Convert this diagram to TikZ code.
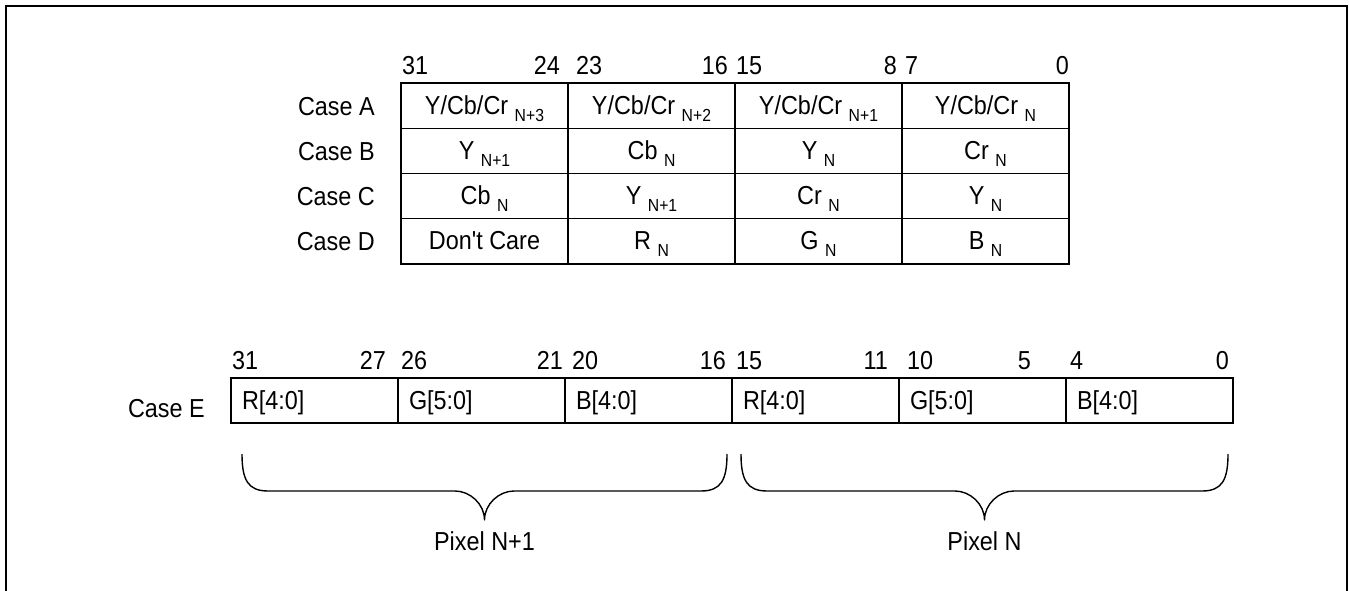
\documentclass[tikz,border=0pt]{standalone}
\usepackage{fontspec}
\newfontfamily\arialfont{Liberation Sans}[FakeStretch=0.9]
\newcommand\lowsub[1]{\raisebox{-7pt}{\fontsize{17.5}{18}\selectfont #1}}
\begin{document}
\begin{tikzpicture}[x=1pt,y=-1pt,
  every node/.style={font=\arialfont\fontsize{26}{30}\selectfont, inner sep=0pt},
  cell/.style={draw, line width=1.4pt, minimum width=167pt, minimum height=45.25pt,
    text height=17pt, text depth=0pt, align=center},
  ecell/.style={draw, line width=1.4pt, minimum width=167pt, minimum height=45pt,
    text height=18pt, text depth=0pt, text width=145pt, inner xsep=11pt, align=left},
  hdrl/.style={anchor=base west},
  hdrr/.style={anchor=base east},
  caselbl/.style={anchor=base east},
  pixlbl/.style={anchor=base},
  brace/.style={line width=1.4pt, line join=round}]
\useasboundingbox (0,0) rectangle (1349,591);
% outer frame (open at the bottom)
\draw[line width=2.7pt] (6,600) -- (6,6) -- (1347,6) -- (1347,600);

% ---------- top table ----------
\node[hdrl] (t31) at (402,75) {31};
\node[hdrr] (t24) at (560,75) {24};
\node[hdrl] (t23) at (576,75) {23};
\node[hdrr] (t16) at (728,75) {16};
\node[hdrl] (t15) at (736,75) {15};
\node[hdrr] (t8)  at (897,75) {8};
\node[hdrl] (t7)  at (905,75) {7};
\node[hdrr] (t0)  at (1069,75) {0};

\node[caselbl] (caseA) at (375,115.1) {Case A};
\node[caselbl] (caseB) at (375,160.4) {Case B};
\node[caselbl] (caseC) at (375,205.6) {Case C};
\node[caselbl] (caseD) at (375,250.9) {Case D};

\node[cell] (a1) at (484.5,105.6) {Y/Cb/Cr \lowsub{N+3}};
\node[cell] (a2) at (651.5,105.6) {Y/Cb/Cr \lowsub{N+2}};
\node[cell] (a3) at (818.5,105.6) {Y/Cb/Cr \lowsub{N+1}};
\node[cell] (a4) at (985.5,105.6) {Y/Cb/Cr \lowsub{N}};

\node[cell] (b1) at (484.5,150.9) {Y \lowsub{N+1}};
\node[cell] (b2) at (651.5,150.9) {Cb \lowsub{N}};
\node[cell] (b3) at (818.5,150.9) {Y \lowsub{N}};
\node[cell] (b4) at (985.5,150.9) {Cr \lowsub{N}};

\node[cell] (c1) at (484.5,196.1) {Cb \lowsub{N}};
\node[cell] (c2) at (651.5,196.1) {Y \lowsub{N+1}};
\node[cell] (c3) at (818.5,196.1) {Cr \lowsub{N}};
\node[cell] (c4) at (985.5,196.1) {Y \lowsub{N}};

\node[cell] (d1) at (484.5,241.4) {Don't Care};
\node[cell] (d2) at (651.5,241.4) {R \lowsub{N}};
\node[cell] (d3) at (818.5,241.4) {G \lowsub{N}};
\node[cell] (d4) at (985.5,241.4) {B \lowsub{N}};

% ---------- bottom row (Case E) ----------
\node[hdrl] (e31) at (232,369) {31};
\node[hdrr] (e27) at (386,369) {27};
\node[hdrl] (e26) at (401,369) {26};
\node[hdrr] (e21) at (563,369) {21};
\node[hdrl] (e20) at (572,369) {20};
\node[hdrr] (e16) at (726,369) {16};
\node[hdrl] (e15) at (736,369) {15};
\node[hdrr] (e11) at (888,369) {11};
\node[hdrl] (e10) at (907,369) {10};
\node[hdrr] (e5)  at (1031,369) {5};
\node[hdrl] (e4)  at (1070,369) {4};
\node[hdrr] (e0)  at (1229,369) {0};

\node[caselbl] (caseE) at (205,417) {Case E};

\node[ecell] (r1) at (314.5,400.5) {R[4:0]};
\node[ecell] (g1) at (481.5,400.5) {G[5:0]};
\node[ecell] (bb1) at (648.5,400.5) {B[4:0]};
\node[ecell] (r0) at (815.5,400.5) {R[4:0]};
\node[ecell] (g0) at (982.5,400.5) {G[5:0]};
\node[ecell] (bb0) at (1149.5,400.5) {B[4:0]};

% ---------- braces ----------
\draw[brace] (242,454) .. controls (242,480) and (248,491) .. (268,491) -- (455,491)
  .. controls (470,491) and (484.5,504) .. (484.5,520)
  .. controls (484.5,504) and (499,491) .. (514,491) -- (701,491)
  .. controls (721,491) and (727,480) .. (727,454);
\draw[brace] (741,454) .. controls (741,480) and (747,491) .. (767,491) -- (955,491)
  .. controls (970,491) and (984.5,504) .. (984.5,520)
  .. controls (984.5,504) and (999,491) .. (1014,491) -- (1202,491)
  .. controls (1222,491) and (1228,480) .. (1228,454);

\node[pixlbl] (pix1) at (484.5,550) {Pixel N+1};
\node[pixlbl] (pix0) at (984.5,550) {Pixel N};
\end{tikzpicture}
\end{document}
